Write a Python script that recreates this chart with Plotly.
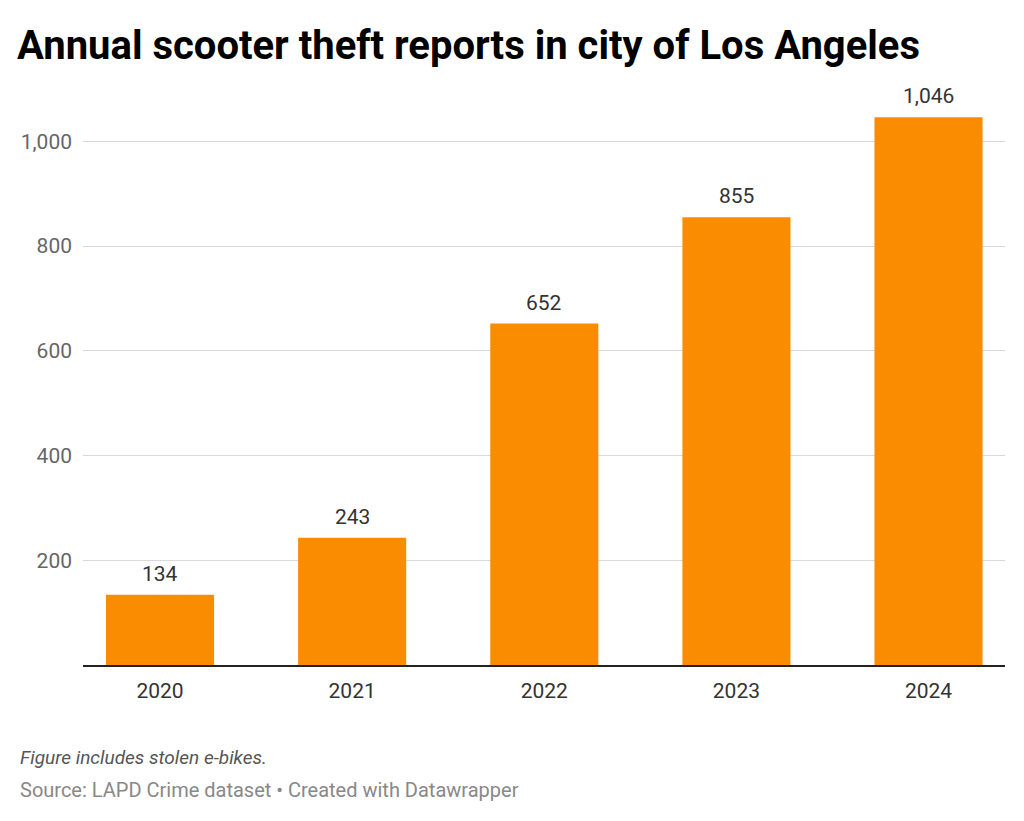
import plotly.graph_objects as go

years = ["2020", "2021", "2022", "2023", "2024"]
reports = [134, 243, 652, 855, 1046]
y_ticks = [200, 400, 600, 800, 1000]
y_tick_labels = ["200", "400", "600", "800", "1,000"]

title_text = "Annual scooter theft reports in city of Los Angeles"
note_text = "Figure includes stolen e-bikes."
source_text = "Source: LAPD Crime dataset • Created with Datawrapper"

W, H = 1024, 821
L, R, T, B = 83, 19, 89, 156
pw = W - L - R
ph = H - T - B

def px_x(px):
    return (px - L) / pw

def px_y(py):
    return (H - B - py) / ph

fig = go.Figure()
fig.add_trace(go.Bar(
    x=years, y=reports, marker=dict(color="#f98c00", line=dict(width=0)),
    width=0.5625, hoverinfo="skip",
))

annotations = []
for i, v in enumerate(reports):
    annotations.append(dict(
        x=i, y=v, xref="x", yref="y", text=f"{v:,}", showarrow=False,
        yanchor="bottom", yshift=7, font=dict(family="Roboto", size=21, color="#333333"),
    ))
annotations.append(dict(
    x=px_x(18), y=px_y(757), xref="paper", yref="paper", xanchor="left", yanchor="middle",
    text=f"<i>{note_text}</i>", showarrow=False,
    font=dict(family="Roboto", size=19, color="#555555"),
))
annotations.append(dict(
    x=px_x(18), y=px_y(790), xref="paper", yref="paper", xanchor="left", yanchor="middle",
    text=source_text, showarrow=False,
    font=dict(family="Roboto", size=20, color="#888888"),
))

fig.update_layout(
    width=W, height=H,
    margin=dict(l=L, r=R, t=T, b=B, pad=0),
    paper_bgcolor="white", plot_bgcolor="white",
    showlegend=False,
    title=dict(
        text=f"<b>{title_text}</b>", x=17 / W, xanchor="left", xref="container",
        y=1 - 45 / H, yanchor="middle", yref="container",
        font=dict(family="Roboto", size=40, color="#000000"),
    ),
    annotations=annotations,
    xaxis=dict(
        type="category", range=[-0.401, 4.398], showgrid=False,
        showline=True, linecolor="#222222", linewidth=2,
        ticks="", tickfont=dict(family="Roboto", size=21, color="#333333"),
        ticklabelstandoff=6,
    ),
    yaxis=dict(
        range=[0, 1100], tickvals=y_ticks, ticktext=y_tick_labels,
        showgrid=True, gridcolor="#d9d9d9", gridwidth=1,
        zeroline=False, showline=False, ticks="",
        tickfont=dict(family="Roboto", size=21, color="#666666"),
        ticklabelstandoff=10,
    ),
)

fig.write_html("out.html")
